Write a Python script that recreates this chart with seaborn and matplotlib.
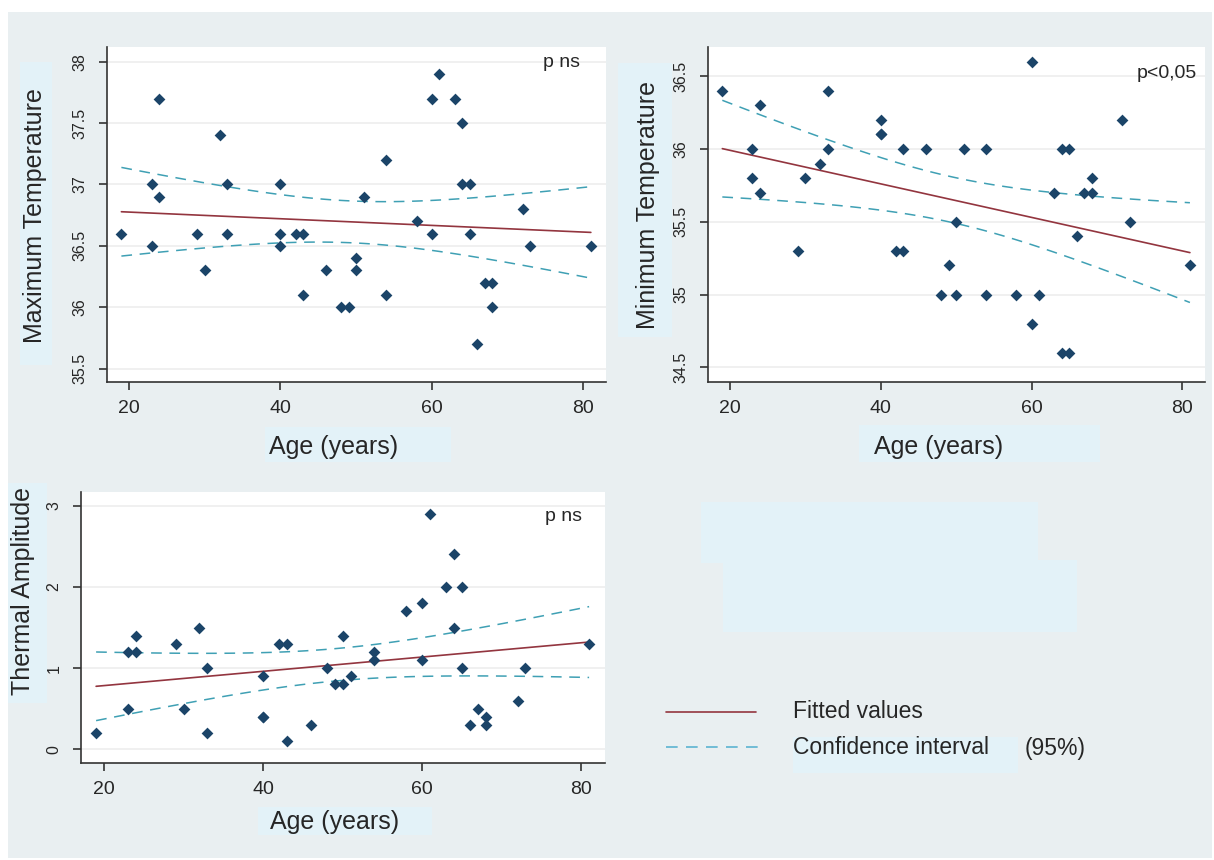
import numpy as np
import matplotlib
matplotlib.use("Agg")
import matplotlib.pyplot as plt
import seaborn as sns
from matplotlib.patches import Rectangle
from matplotlib.lines import Line2D

# one row per subject
age = [19, 23, 23, 24, 24, 29, 30, 32, 33, 33, 40, 40, 40, 42, 43, 43, 46, 48, 49, 50,
       50, 51, 54, 54, 58, 60, 60, 61, 63, 64, 64, 65, 65, 66, 67, 68, 68, 72, 73, 81]
max_temp = [36.6, 37.0, 36.5, 37.7, 36.9, 36.6, 36.3, 37.4, 37.0, 36.6, 37.0, 36.6, 36.5, 36.6,
            36.6, 36.1, 36.3, 36.0, 36.0, 36.4, 36.3, 36.9, 37.2, 36.1, 36.7, 37.7, 36.6, 37.9,
            37.7, 37.5, 37.0, 37.0, 36.6, 35.7, 36.2, 36.2, 36.0, 36.8, 36.5, 36.5]
min_temp = [36.4, 35.8, 36.0, 36.3, 35.7, 35.3, 35.8, 35.9, 36.0, 36.4, 36.1, 36.2, 36.1, 35.3,
            35.3, 36.0, 36.0, 35.0, 35.2, 35.0, 35.5, 36.0, 36.0, 35.0, 35.0, 36.6, 34.8, 35.0,
            35.7, 36.0, 34.6, 36.0, 34.6, 35.4, 35.7, 35.8, 35.7, 36.2, 35.5, 35.2]
amplitude = [0.2, 1.2, 0.5, 1.4, 1.2, 1.3, 0.5, 1.5, 1.0, 0.2, 0.9, 0.4, 0.4, 1.3,
             1.3, 0.1, 0.3, 1.0, 0.8, 1.4, 0.8, 0.9, 1.2, 1.1, 1.7, 1.1, 1.8, 2.9,
             2.0, 1.5, 2.4, 1.0, 2.0, 0.3, 0.5, 0.4, 0.3, 0.6, 1.0, 1.3]

W, H = 1214, 860
NAVY = '#1b4468'
MAROON = '#93353f'
TEAL = '#3fa0b4'
BG = '#e9eff1'
BOX = '#e3f2f8'
TXT = '#262626'

sns.set_style("white")
plt.rcParams['font.family'] = ['Liberation Sans', 'DejaVu Sans']


def fit_ci(x, y, n=100):
    # linear fit with 95% CI of the mean prediction (like Stata lfitci)
    x = np.asarray(x, float)
    y = np.asarray(y, float)
    b, a = np.polyfit(x, y, 1)
    grid = np.linspace(x.min(), x.max(), n)
    resid = y - (a + b * x)
    s = np.sqrt((resid ** 2).sum() / (len(x) - 2))
    sxx = ((x - x.mean()) ** 2).sum()
    se = s * np.sqrt(1 / len(x) + (grid - x.mean()) ** 2 / sxx)
    t = 2.0244
    fit = a + b * grid
    return grid, fit, fit - t * se, fit + t * se


def px_rect(x0, y0, x1, y1, color, z):
    return Rectangle((x0 / W, 1 - y1 / H), (x1 - x0) / W, (y1 - y0) / H,
                     transform=fig.transFigure, facecolor=color, edgecolor='none', zorder=z)


fig = plt.figure(figsize=(W / 100, H / 100), dpi=100, facecolor='white')
fig.add_artist(px_rect(8, 12, 1212, 858, BG, -3))
# light boxes behind labels / blank area
for r in [(20, 62, 52, 365), (618, 63, 672, 337), (265, 427, 451, 462), (859, 425, 1100, 462),
          (8, 483, 47, 703), (258, 807, 432, 835), (701, 502, 1038, 563), (723, 560, 1077, 632),
          (793, 737, 1018, 773)]:
    fig.add_artist(px_rect(*r, BOX, -2))

panels = [
    dict(rect=(107, 47, 606, 382), y=max_temp, ylim=(35.39, 38.12), yticks=[35.5, 36, 36.5, 37, 37.5, 38],
         ylabel='Maximum Temperature', ylab=(-0.144, 0.496), xlab=(0.455, -0.194),
         note='p ns', note_pos=(0.948, 0.955)),
    dict(rect=(708, 47, 1205, 382), y=min_temp, ylim=(34.40, 36.70), yticks=[34.5, 35, 35.5, 36, 36.5],
         ylabel='Minimum Temperature', ylab=(-0.121, 0.528), xlab=(0.464, -0.194),
         note='p<0,05', note_pos=(0.984, 0.922)),
    dict(rect=(81, 492, 605, 763), y=amplitude, ylim=(-0.17, 3.17), yticks=[0, 1, 2, 3],
         ylabel='Thermal Amplitude', ylab=(-0.111, 0.635), xlab=(0.483, -0.218),
         note='p ns', note_pos=(0.956, 0.908)),
]

for p in panels:
    x0, y0, x1, y1 = p['rect']
    ax = fig.add_axes([x0 / W, 1 - y1 / H, (x1 - x0) / W, (y1 - y0) / H])
    ax.set_facecolor('white')

    g, fit, lo, hi = fit_ci(age, p['y'])
    ax.plot(g, hi, color=TEAL, lw=1.1, dashes=(7, 5), zorder=2)
    ax.plot(g, lo, color=TEAL, lw=1.1, dashes=(7, 5), zorder=2)
    ax.plot(g, fit, color=MAROON, lw=1.2, zorder=2)
    sns.scatterplot(x=age, y=p['y'], ax=ax, marker='D', s=36, color=NAVY,
                    edgecolor=NAVY, linewidth=0, zorder=3, legend=False)

    ax.set_xlim(17.1, 83.0)
    ax.set_ylim(*p['ylim'])
    ax.set_xticks([20, 40, 60, 80])
    ax.set_yticks(p['yticks'])
    ax.set_yticklabels([f'{v:g}' for v in p['yticks']])
    ax.yaxis.grid(True, color='#efefef', lw=1.3)
    ax.xaxis.grid(False)
    ax.set_axisbelow(True)

    for s in ['top', 'right']:
        ax.spines[s].set_visible(False)
    for s in ['left', 'bottom']:
        ax.spines[s].set_color('#333333')
        ax.spines[s].set_linewidth(1.2)
    ax.tick_params(axis='both', direction='out', length=6, width=1.2, color='#333333',
                   left=True, bottom=True, labelcolor=TXT)
    ax.tick_params(axis='x', labelsize=14, pad=7)
    ax.tick_params(axis='y', labelsize=11.5, pad=8, labelrotation=90)
    for lbl in ax.get_yticklabels():
        lbl.set_va('center')

    ax.set_xlabel('Age (years)', fontsize=18, color=TXT, va='center', ha='center')
    ax.xaxis.set_label_coords(*p['xlab'])
    ax.set_ylabel(p['ylabel'], fontsize=18, color=TXT, va='center', ha='center')
    ax.yaxis.set_label_coords(*p['ylab'])

    ax.text(*p['note_pos'], p['note'], transform=ax.transAxes, ha='right', va='center',
            fontsize=14, color=TXT)

# legend in the empty quadrant
fig.add_artist(Line2D([666 / W, 756 / W], [1 - 712 / H] * 2, color=MAROON, lw=1.2,
                      transform=fig.transFigure))
fig.add_artist(Line2D([666 / W, 760 / W], [1 - 747 / H] * 2, color='#5cb3d1', lw=1.2,
                      dashes=(7, 5), transform=fig.transFigure))
fig.text(793 / W, 1 - 711 / H, 'Fitted values', fontsize=16.5, color=TXT, va='center', ha='left')
fig.text(793 / W, 1 - 748 / H, 'Confidence interval', fontsize=16.5, color=TXT, va='center', ha='left')
fig.text(1025 / W, 1 - 748 / H, '(95%)', fontsize=16.5, color=TXT, va='center', ha='left')

fig.savefig('out.png', dpi=100, facecolor=fig.get_facecolor())
